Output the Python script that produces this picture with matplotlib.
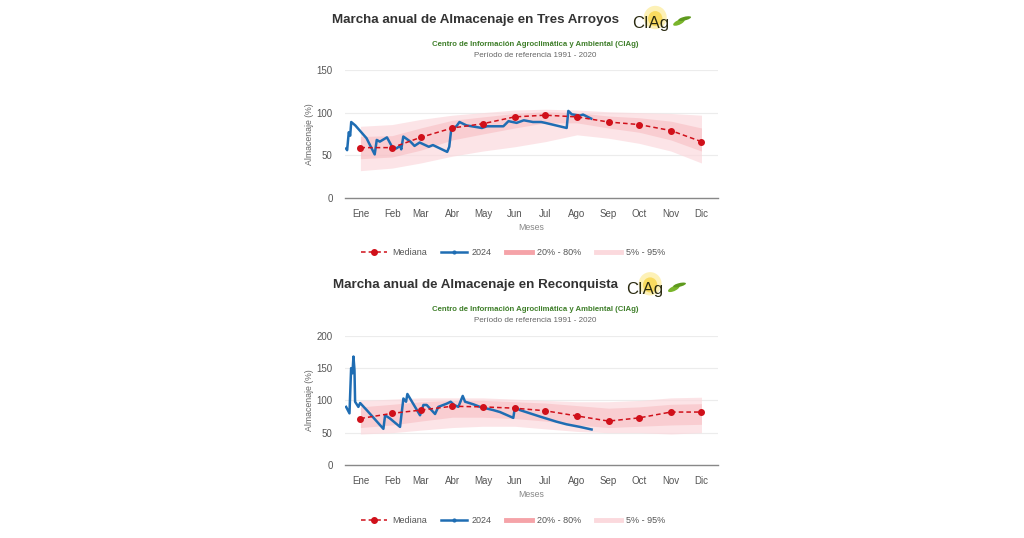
import numpy as np
import matplotlib
matplotlib.use("Agg")
import matplotlib.pyplot as plt
from matplotlib.lines import Line2D
from matplotlib.patches import Ellipse

plt.rcParams['font.family'] = ['Liberation Sans', 'DejaVu Sans']

meses = ["Ene", "Feb", "Mar", "Abr", "May", "Jun", "Jul", "Ago", "Sep", "Oct", "Nov", "Dic"]
dias_mes = [15, 46, 74, 105, 135, 166, 196, 227, 258, 288, 319, 349]

# Tres Arroyos
ta_mediana = [59, 59, 71, 82, 87, 95, 97, 95, 89, 86, 79, 66]
ta_p5 = [32, 35, 41, 49, 55, 60, 66, 74, 70, 64, 55, 41]
ta_p20 = [46, 48, 56, 68, 75, 82, 88, 88, 82, 77, 68, 55]
ta_p80 = [72, 73, 82, 91, 95, 99, 101, 100, 96, 94, 90, 82]
ta_p95 = [84, 86, 92, 97, 100, 103, 104, 103, 101, 100, 99, 97]
ta_dias = [1, 2, 3.6, 5, 6, 10, 21, 29, 31, 34, 41, 46, 50, 54, 55, 57, 64, 68, 73, 82, 86,
           100, 102, 104, 109, 112, 119, 129, 134, 139, 155, 160, 168, 175, 184, 192,
           196, 217, 218.6, 222, 230, 233, 241]
ta_2024 = [58, 56, 77, 73, 89, 85, 70, 51, 68, 66, 71, 60, 58, 61, 57, 72, 66, 61, 65, 60, 62,
           54, 60, 81, 84, 89, 85, 83, 82, 84, 84, 90, 88, 91, 89, 89,
           88, 82, 102, 98, 96.5, 97.7, 93]

# Reconquista
rq_mediana = [72, 80, 85, 91, 90, 88, 84, 76, 68, 73, 82, 82]
rq_p5 = [48, 50, 54, 58, 60, 60, 56, 52, 50, 50, 48, 50]
rq_p20 = [58, 62, 68, 74, 74, 72, 68, 62, 58, 60, 62, 63]
rq_p80 = [90, 94, 98, 100, 100, 98, 96, 92, 88, 90, 94, 95]
rq_p95 = [100, 102, 104, 104, 104, 102, 100, 98, 98, 100, 104, 105]
rq_dias = [1, 4.3, 5.9, 7.2, 8.2, 9.2, 9.8, 13, 14.7, 21.2, 37.5, 39.2, 44, 53.8, 57.1, 59.7,
           61, 73.4, 76.7, 79.9, 88.1, 91.3, 99.5, 103.4, 106.7, 110.9, 115.2, 117.5, 125.6,
           132.1, 145.2, 151.7, 164.7, 166.4, 171.3, 190.9, 207.2, 216.9, 230, 241.4]
rq_2024 = [90, 80, 150, 142, 168, 147, 98, 90, 96, 85, 56, 77, 72, 59, 103, 98,
           110, 77, 93, 93, 79, 90, 95, 98, 93, 90, 107, 98, 94,
           90, 85, 82, 73, 90, 85, 75, 67, 63, 59, 55]

rojo = "#d0101a"
azul = "#1f6db3"
banda1 = "#f5a3a8"
banda2 = "#fbd9dd"


def logo(fig, x, y):
    ax = fig.add_axes([x - 0.035, y - 0.035, 0.07, 0.07])
    ax.set_xlim(0, 1)
    ax.set_ylim(0, 1)
    ax.axis("off")
    ax.add_patch(Ellipse((0.47, 0.55), 0.32, 0.62, color="#fdf0b0", alpha=0.9, lw=0))
    ax.add_patch(Ellipse((0.47, 0.52), 0.2, 0.4, color="#f9d64a", alpha=0.8, lw=0))
    ax.text(0.4, 0.4, "CIAg", fontsize=12, ha="center", va="center", color="#2a2a10",
            family="Liberation Sans")
    ax.add_patch(Ellipse((0.8, 0.42), 0.1, 0.22, angle=-40, color="#7ab52b", lw=0))
    ax.add_patch(Ellipse((0.88, 0.52), 0.09, 0.2, angle=-60, color="#5e9a1e", lw=0))


def grafico(fig, rect, titulo, ty, mediana, p5, p20, p80, p95, dias, serie, ymax, yticks):
    ax = fig.add_axes(rect)
    ax.fill_between(dias_mes, p5, p95, color=banda2, alpha=0.7, lw=0)
    ax.fill_between(dias_mes, p20, p80, color=banda1, alpha=0.35, lw=0)
    ax.plot(dias, serie, color=azul, lw=1.8, zorder=3)
    ax.plot(dias_mes, mediana, color=rojo, lw=1.1, ls=(0, (3, 2)), marker="o", ms=4, zorder=4)
    ax.set_xlim(0, 365)
    ax.set_ylim(0, ymax)
    ax.set_yticks(yticks)
    ax.set_xticks(dias_mes)
    ax.set_xticklabels(meses)
    ax.tick_params(axis="x", length=0, labelsize=7, labelcolor="#555555", pad=8)
    ax.tick_params(axis="y", length=0, labelsize=7, labelcolor="#555555", pad=9)
    ax.grid(axis="y", color="#ececec", lw=0.8)
    ax.set_axisbelow(True)
    for s in ["top", "right", "left"]:
        ax.spines[s].set_visible(False)
    ax.spines["bottom"].set_color("#888888")
    ax.spines["bottom"].set_linewidth(1)
    ax.set_ylabel("Almacenaje (%)", fontsize=6.3, color="#666666", labelpad=2)
    ax.set_xlabel("Meses", fontsize=6.3, color="#888888", labelpad=3)

    fig.text(0.464, ty, titulo, fontsize=9.6, fontweight="bold", color="#333333",
             ha="center", va="center")
    fig.text(0.523, ty - 0.045, "Centro de Información Agroclimática y Ambiental (CIAg)",
             fontsize=5.6, fontweight="bold", color="#3f7f2a", ha="center", va="center")
    fig.text(0.523, ty - 0.066, "Período de referencia 1991 - 2020",
             fontsize=5.8, color="#666666", ha="center", va="center")

    handles = [
        Line2D([], [], color=rojo, lw=1.1, ls=(0, (3, 2)), marker="o", ms=4),
        Line2D([], [], color=azul, lw=1.8, marker="o", ms=2),
        Line2D([], [], color=banda1, lw=3.5),
        Line2D([], [], color=banda2, lw=3.5),
    ]
    etiquetas = ["Mediana", "2024", "20% - 80%", "5% - 95%"]
    leg = ax.legend(handles, etiquetas, loc="upper center", bbox_to_anchor=(0.452, -0.33),
                    ncol=4, frameon=False, fontsize=6.5, handlelength=2.8,
                    columnspacing=1.6, handletextpad=0.6)
    for t in leg.get_texts():
        t.set_color("#555555")
    return ax


fig = plt.figure(figsize=(10.24, 5.38), dpi=100)
fig.patch.set_facecolor("white")

grafico(fig, [0.337, 0.632, 0.364, 0.238], "Marcha anual de Almacenaje en Tres Arroyos", 0.963,
        ta_mediana, ta_p5, ta_p20, ta_p80, ta_p95, ta_dias, ta_2024, 150, [0, 50, 100, 150])
grafico(fig, [0.337, 0.1357, 0.364, 0.240], "Marcha anual de Almacenaje en Reconquista", 0.470,
        rq_mediana, rq_p5, rq_p20, rq_p80, rq_p95, rq_dias, rq_2024, 200, [0, 50, 100, 150, 200])

logo(fig, 0.642, 0.964)
logo(fig, 0.637, 0.469)

fig.savefig("out.png", dpi=100, facecolor="white")
